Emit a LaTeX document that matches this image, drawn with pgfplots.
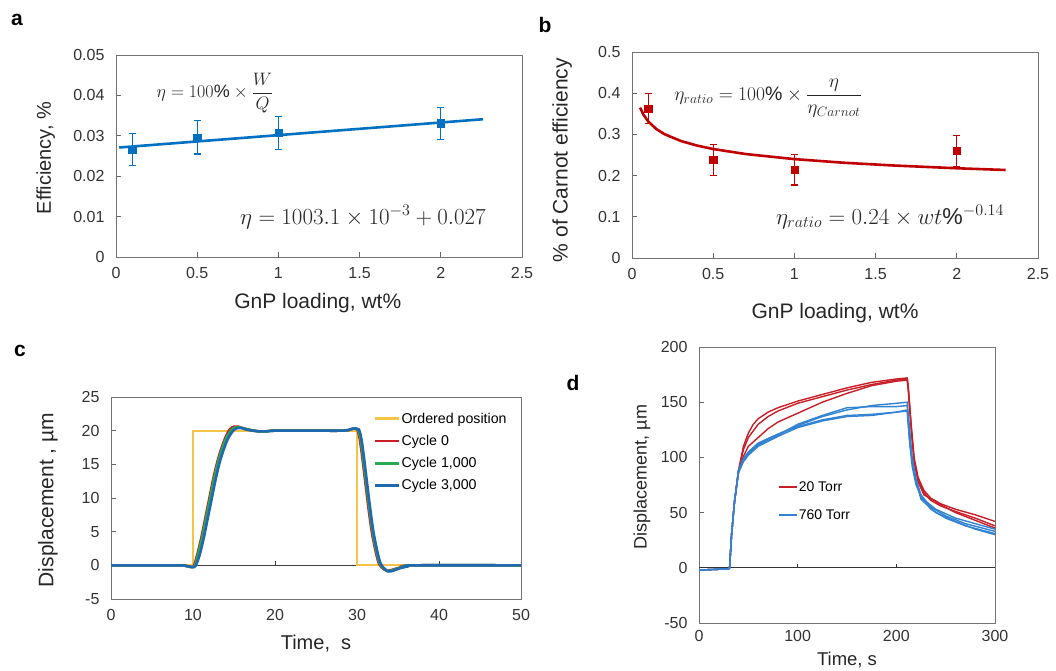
\RequirePackage{fix-cm}
\documentclass[border=0pt]{standalone}
\usepackage{fontspec}
\setmainfont{Liberation Sans}
\usepackage{pgfplots}
\pgfplotsset{compat=1.18}

\definecolor{xlblue}{RGB}{0,112,192}
\definecolor{xlred}{RGB}{192,0,0}
\definecolor{cyel}{RGB}{245,195,70}
\definecolor{cred}{RGB}{200,30,40}
\definecolor{cgreen}{RGB}{40,170,80}
\definecolor{cblue}{RGB}{30,105,175}
\definecolor{dred}{RGB}{200,30,40}
\definecolor{dblue}{RGB}{50,130,210}

\pgfplotsset{
  panel/.style={
    scale only axis,
    axis line style={draw=black!55, line width=0.9pt},
    tick style={draw=black!60, line width=0.9pt},
    tick align=inside, xtick pos=left, ytick pos=left,
    major tick length=5pt,
    tick label style={font=\fontsize{16}{18}\selectfont, text=black!80},
    yticklabel style={xshift=-8pt},
    xticklabel style={yshift=-7pt},
    label style={text=black!85},
    /pgf/number format/assume math mode=true,
    scaled ticks=false,
  },
}

\begin{document}
\begin{tikzpicture}
\useasboundingbox (0pt,0pt) rectangle (1056pt,671pt);

% ---------------- a ----------------
\begin{axis}[panel, at={(116pt,414pt)}, anchor=south west,
  width=406pt, height=202pt,
  xmin=0, xmax=2.5, ymin=0, ymax=0.05,
  xtick={0,0.5,1,1.5,2,2.5},
  ytick={0,0.01,0.02,0.03,0.04,0.05},
  yticklabels={0,0.01,0.02,0.03,0.04,0.05},
  xlabel={GnP loading, wt\%}, ylabel={Efficiency, \%},
  xlabel style={at={(axis description cs:0.497,-0.228)}, anchor=center,
    font=\fontsize{21}{24}\selectfont},
  ylabel style={at={(axis description cs:-0.173,0.49)}, anchor=center,
    font=\fontsize{20}{23}\selectfont},
]
\addplot[xlblue, line width=2.6pt] coordinates {(0.02,0.0271) (2.26,0.0341)};
\addplot[xlblue, only marks, mark=square*, mark size=3.6pt,
  error bars/.cd, y dir=both, y explicit,
  error bar style={line width=1.2pt},
  error mark options={rotate=90, mark size=3.5pt, line width=1.2pt}]
  coordinates {
  (0.1,0.0266) +- (0,0.0040)
  (0.5,0.0296) +- (0,0.0041)
  (1,0.0307) +- (0,0.0040)
  (2,0.0331) +- (0,0.0040)
};
\end{axis}

% ---------------- b ----------------
\begin{axis}[panel, at={(632pt,413pt)}, anchor=south west,
  width=406pt, height=206pt,
  xmin=0, xmax=2.5, ymin=0, ymax=0.5,
  xtick={0,0.5,1,1.5,2,2.5},
  ytick={0,0.1,0.2,0.3,0.4,0.5},
  xlabel={GnP loading, wt\%}, ylabel={\% of Carnot efficiency},
  xlabel style={at={(axis description cs:0.5,-0.267)}, anchor=center,
    font=\fontsize{21}{24}\selectfont},
  ylabel style={at={(axis description cs:-0.172,0.475)}, anchor=center,
    font=\fontsize{21}{24}\selectfont},
]
\addplot[xlred, line width=2.6pt] coordinates {
  (0.05,0.3650) (0.07,0.3483) (0.1,0.3313) (0.15,0.3130) (0.2,0.3006)
  (0.3,0.2841) (0.4,0.2729) (0.5,0.2645) (0.7,0.2523) (1.0,0.2400)
  (1.3,0.2313) (1.6,0.2247) (2.0,0.2178) (2.3,0.2136)
};
\addplot[xlred, only marks, mark=square*, mark size=3.6pt,
  error bars/.cd, y dir=both, y explicit,
  error bar style={line width=1.2pt},
  error mark options={rotate=90, mark size=3.5pt, line width=1.2pt}]
  coordinates {
  (0.1,0.363) +- (0,0.037)
  (0.5,0.238) +- (0,0.037)
  (1,0.214) +- (0,0.037)
  (2,0.260) +- (0,0.037)
};
\end{axis}

% ---------------- c ----------------
\begin{axis}[panel, at={(111pt,72pt)}, anchor=south west,
  width=410pt, height=202pt,
  xmin=0, xmax=50, ymin=-5, ymax=25,
  xtick={0,10,20,30,40,50}, ytick={-5,0,5,10,15,20,25},
  xtick style={draw=none},
  xlabel={Time,\ \ s}, ylabel={Displacement , µm},
  xlabel style={at={(axis description cs:0.5,-0.218)}, anchor=center,
    font=\fontsize{20}{23}\selectfont},
  ylabel style={at={(axis description cs:-0.154,0.49)}, anchor=center,
    font=\fontsize{21}{24}\selectfont},
  legend style={at={(axis description cs:0.641,0.923)}, anchor=north west,
    draw=none, fill=none, font=\fontsize{14.2}{16}\selectfont,
    row sep=10.5pt, inner sep=0pt,
    nodes={inner xsep=1pt, inner ysep=0pt}},
  legend cell align=left,
  legend image code/.code={\draw[#1, line width=2.6pt] (0pt,0pt) -- (24pt,0pt);},
]
\draw[black!75, line width=0.9pt] (axis cs:0,0) -- (axis cs:50,0);
\pgfplotsinvokeforeach{10,20,30,40}{\draw[black!75, line width=0.9pt] (axis cs:#1,0) -- ++(0pt,4pt);}
\addplot[cyel, line width=1.8pt] coordinates {
  (0,0) (10,0) (10,20) (30,20) (30,0) (50,0)
};
\addlegendentry{Ordered position}
\addplot[cred, line width=2.6pt, smooth] coordinates {
  (0,0) (8,0) (9,-0.05) (9.7,-0.25) (10.1,-0.1) (10.5,1.5) (11,4)
  (11.5,7) (12,10) (12.5,13) (13,15.5) (13.5,17.5) (14,19.1) (14.5,20.2)
  (15,20.6) (15.5,20.6) (16,20.4) (17,20.1) (18,19.9) (19,19.9) (20,20)
  (25,20) (28,20) (29,20.1) (29.5,20.3) (30,20.2) (30.3,19) (30.6,16.5)
  (31,12.5) (31.4,8.5) (31.8,5) (32.2,2.5) (32.6,0.5) (33,-0.3)
  (33.6,-0.8) (34.2,-0.7) (35,-0.4) (36,-0.15) (37,0) (50,0)
};
\addlegendentry{Cycle 0}
\addplot[cgreen, line width=2.6pt, smooth] coordinates {
  (0,0) (8,0) (9,-0.05) (9.8,-0.25) (10.2,-0.1) (10.6,1.5) (11.1,4)
  (11.6,7) (12.1,10) (12.6,13) (13.1,15.5) (13.6,17.5) (14.1,19) (14.7,20.1)
  (15.2,20.5) (15.7,20.5) (16.2,20.3) (17,20.1) (18,19.9) (19,19.9) (20,20)
  (25,20) (28,20) (29,20.1) (29.5,20.3) (30.1,20.2) (30.4,19) (30.7,16.5)
  (31.1,12.5) (31.5,8.5) (31.9,5) (32.3,2.5) (32.7,0.5) (33.1,-0.3)
  (33.7,-0.85) (34.3,-0.75) (35.1,-0.4) (36.1,-0.15) (37.1,0) (50,0)
};
\addlegendentry{Cycle 1,000}
\addplot[cblue, line width=2.6pt, smooth] coordinates {
  (0,0) (8,0) (9,-0.05) (9.9,-0.25) (10.3,-0.1) (10.8,1.5) (11.3,4)
  (11.8,7) (12.3,10) (12.8,13) (13.3,15.5) (13.8,17.4) (14.3,18.9) (14.9,20)
  (15.4,20.4) (15.9,20.4) (16.4,20.2) (17,20.05) (18,19.9) (19,19.9) (20,20)
  (25,20) (28,20) (29,20.1) (29.5,20.3) (30.2,20.2) (30.5,19) (30.8,16.5)
  (31.2,12.5) (31.6,8.5) (32,5) (32.4,2.5) (32.8,0.5) (33.2,-0.3)
  (33.8,-0.9) (34.4,-0.8) (35.2,-0.45) (36.2,-0.15) (37.2,0) (50,0)
};
\addlegendentry{Cycle 3,000}
\end{axis}

% ---------------- d ----------------
\begin{axis}[panel, at={(699pt,48pt)}, anchor=south west,
  width=296pt, height=276pt,
  xmin=0, xmax=300, ymin=-50, ymax=200,
  xtick={0,100,200,300}, ytick={-50,0,50,100,150,200},
  xtick style={draw=none},
  xticklabel style={yshift=3pt},
  xlabel={Time, s}, ylabel={Displacement, µm},
  xlabel style={at={(axis description cs:0.5,-0.134)}, anchor=center,
    font=\fontsize{18.5}{21}\selectfont},
  ylabel style={at={(axis description cs:-0.193,0.529)}, anchor=center,
    font=\fontsize{18}{21}\selectfont},
  legend style={at={(axis description cs:0.264,0.514)}, anchor=north west,
    draw=none, fill=none, font=\fontsize{14}{16}\selectfont,
    row sep=17pt, inner sep=0pt,
    nodes={inner xsep=1pt, inner ysep=0pt}},
  legend cell align=left,
  legend image code/.code={\draw[#1, line width=2.4pt] (0pt,0pt) -- (18pt,0pt);},
]
\draw[black!80, line width=0.9pt] (axis cs:0,0) -- (axis cs:300,0);
\pgfplotsinvokeforeach{100,200}{\draw[black!80, line width=0.9pt] (axis cs:#1,0) -- ++(0pt,4pt);}
\addplot[dred, line width=1.4pt] coordinates {
  (0,-2) (15,-1.5) (30,-1) (31,0) (33,30) (36,60) (40,88) (45,110) (50,122)
  (55,130) (60,135) (70,141) (80,145) (100,151) (125,157) (150,163)
  (175,168) (200,171) (211,172) (212,165) (215,130) (218,100) (222,82)
  (228,70) (235,63) (245,58) (260,53) (280,48) (300,42)
};
\addlegendentry{20 Torr}
\addplot[dred, line width=1.4pt, forget plot] coordinates {
  (0,-2) (15,-1.5) (30,-1) (31,0) (33,30) (36,60) (40,88) (45,107) (50,118)
  (60,130) (70,137) (80,142) (100,149) (125,155) (150,161) (175,166)
  (200,170) (211,171) (212,164) (215,128) (218,98) (222,80) (228,68)
  (235,61) (245,56) (260,51) (280,45) (300,38)
};
\addplot[dred, line width=1.4pt, forget plot] coordinates {
  (0,-2) (15,-1.5) (30,-1) (31,0) (33,30) (36,60) (40,86) (45,101) (50,110)
  (60,118) (70,126) (80,132) (100,140) (125,150) (150,158) (175,165)
  (200,169) (211,170) (212,162) (215,126) (218,96) (222,78) (228,66)
  (240,60) (245,57) (260,50) (280,43) (300,36)
};
\addplot[dblue, line width=1.4pt] coordinates {
  (0,-2) (15,-1.5) (30,-1) (31,0) (33,30) (36,60) (40,88) (45,98) (50,104)
  (60,112) (70,117) (80,121) (100,129) (125,137) (150,143) (175,147)
  (200,149) (211,150) (213,130) (216,100) (220,80) (225,66) (235,55)
  (250,47) (270,40) (300,33)
};
\addlegendentry{760 Torr}
\addplot[dblue, line width=1.4pt, forget plot] coordinates {
  (0,-2) (15,-1.5) (30,-1) (31,0) (33,30) (36,60) (40,87) (45,97) (50,103)
  (60,111) (80,120) (100,130) (125,138) (150,145) (175,146) (200,146)
  (211,147) (213,126) (216,97) (220,78) (225,64) (235,53) (250,45)
  (270,38) (300,31)
};
\addplot[dblue, line width=1.4pt, forget plot] coordinates {
  (0,-2) (15,-1.5) (30,-1) (31,0) (33,30) (36,60) (40,88) (45,99) (50,105)
  (60,113) (80,121) (100,128) (125,134) (150,138) (175,139) (200,141)
  (211,143) (214,110) (218,85) (225,62) (240,50) (260,42) (280,35) (300,30)
};
\addplot[dblue, line width=1.4pt, forget plot] coordinates {
  (0,-2) (15,-1.5) (30,-1) (31,0) (33,30) (36,60) (40,86) (45,96) (50,102)
  (60,110) (80,119) (100,127) (125,133) (150,137) (175,138) (200,141)
  (211,142) (213,118) (216,92) (220,75) (226,63) (240,53) (260,45)
  (280,40) (300,35)
};
\end{axis}

% equations and panel letters
\node[font=\fontsize{18}{21}\selectfont, text=black!85] at (215pt,578pt)
  {$\eta = 100\% \times \displaystyle\frac{W}{Q}$};
\node[font=\fontsize{23}{26}\selectfont, text=black!85] at (363pt,454pt)
  {$\eta = 1003.1 \times 10^{-3} + 0.027$};
\node[font=\fontsize{19.5}{22}\selectfont, text=black!85] at (768pt,573pt)
  {$\eta_{ratio} = 100\% \times \displaystyle\frac{\eta}{\eta_{Carnot}}$};
\node[font=\fontsize{23}{26}\selectfont, text=black!85] at (890pt,454pt)
  {$\eta_{ratio} = 0.24 \times wt\%^{-0.14}$};

\node[font=\fontsize{21}{24}\selectfont\bfseries] at (17pt,651pt) {a};
\node[font=\fontsize{21}{24}\selectfont\bfseries] at (545pt,646pt) {b};
\node[font=\fontsize{21}{24}\selectfont\bfseries] at (20pt,320pt) {c};
\node[font=\fontsize{21}{24}\selectfont\bfseries] at (573pt,288pt) {d};
\end{tikzpicture}
\end{document}
